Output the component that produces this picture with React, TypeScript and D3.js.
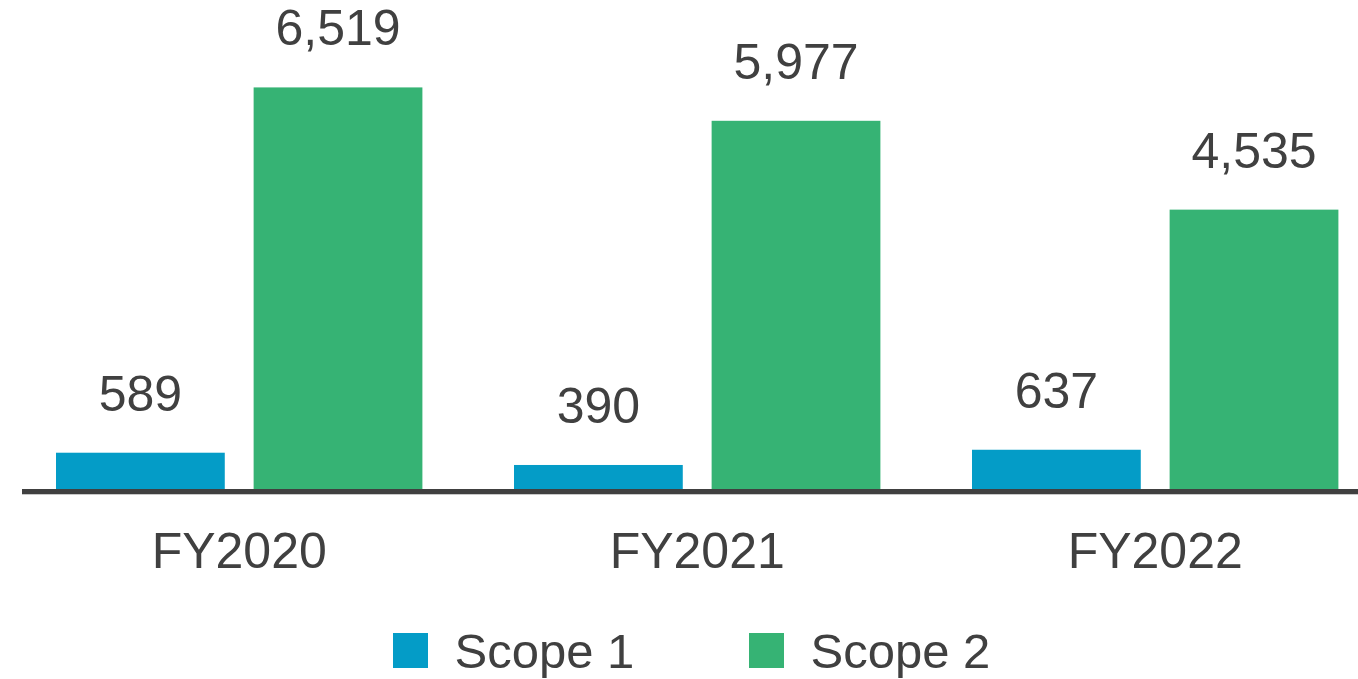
import React from "react";
import * as d3 from "d3";

const categories = ["FY2020", "FY2021", "FY2022"];
const seriesNames = ["Scope 1", "Scope 2"];
const scope1 = [589, 390, 637];
const scope2 = [6519, 5977, 4535];
const colors = ["#049CC7", "#36B374"];

const W = 1358;
const H = 679;
const baseY = 489;
const FONT = "'Liberation Sans', Arial, Helvetica, sans-serif";
const TEXT = "#404040";

export default function App() {
  const x0 = d3.scaleBand<string>().domain(categories).range([10.2, 1384.2]).paddingInner(0.2).paddingOuter(0.1);
  const x1 = d3.scaleBand<string>().domain(seriesNames).range([0, x0.bandwidth()]).paddingInner(0.146);
  const y = d3.scaleLinear().domain([0, 7938]).range([baseY, 0]);
  const fmt = d3.format(",");
  const seriesValues = [scope1, scope2];

  return (
    <svg width={W} height={H} style={{ position: "absolute", left: 0, top: 0, background: "#fff" }} fontFamily={FONT}>
      {categories.map((c, i) => (
        <g key={c} transform={`translate(${x0(c)},0)`}>
          {seriesNames.map((s, j) => {
            const v = seriesValues[j][i];
            const bx = x1(s)!;
            const top = y(v);
            return (
              <g key={s}>
                <rect x={bx} y={top} width={x1.bandwidth()} height={baseY + 1 - top} fill={colors[j]} />
                <text x={bx + x1.bandwidth() / 2} y={top - 42} textAnchor="middle" fontSize={50} fill={TEXT}>
                  {fmt(v)}
                </text>
              </g>
            );
          })}
          <text x={x0.bandwidth() / 2} y={568} textAnchor="middle" fontSize={50} fill={TEXT}>
            {c}
          </text>
        </g>
      ))}
      <line x1={22} x2={W} y1={494.5} y2={494.5} stroke="#c8c8c8" strokeWidth={1} />
      <line x1={22} x2={W} y1={491.5} y2={491.5} stroke="#404040" strokeWidth={5} />
      {seriesNames.map((s, j) => {
        const lx = [393, 749][j];
        return (
          <g key={s}>
            <rect x={lx} y={633} width={35} height={35} fill={colors[j]} />
            <text x={lx + 61.5} y={668} fontSize={49} fill={TEXT}>
              {s}
            </text>
          </g>
        );
      })}
    </svg>
  );
}
